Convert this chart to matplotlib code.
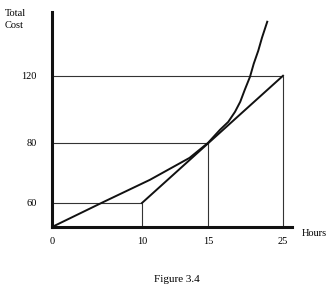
import numpy as np
import matplotlib
matplotlib.use("Agg")
import matplotlib.pyplot as plt

# data
hour_ticks = [0, 10, 15, 25]
cost_ticks = [60, 80, 120]

# convex total cost curve
curve_hours = [0, 5.7, 10.6, 13.6, 15, 16.6, 17.7, 18.6, 19.3, 19.9,
               20.6, 21.1, 21.7, 22.2, 22.9]
curve_cost = [50, 60.3, 67.7, 75, 80, 87.8, 92.5, 98.5, 104.5, 111.6,
              119.4, 127.2, 134.9, 142.7, 152.2]

# straight cost line
line_hours = [10, 25]
line_cost = [60, 120]

# guide points (dropped to both axes)
guide_hours = [10, 15, 25]
guide_cost = [60, 80, 120]

x_min, x_max = 0, 26.2
y_min, y_max = 50, 158


# the axes in the drawing are not to scale, so use a piecewise linear scale
def piecewise(vals, pos):
    vals = np.asarray(vals, float)
    pos = np.asarray(pos, float)

    def conv(v, a, b):
        v = np.asarray(v, float)
        shp = v.shape
        v = np.atleast_1d(v)
        out = np.interp(v, a, b)
        lo = v < a[0]
        hi = v > a[-1]
        out[lo] = b[0] + (v[lo] - a[0]) * (b[1] - b[0]) / (a[1] - a[0])
        out[hi] = b[-1] + (v[hi] - a[-1]) * (b[-1] - b[-2]) / (a[-1] - a[-2])
        return out.reshape(shp)

    return (lambda v: conv(v, vals, pos)), (lambda p: conv(p, pos, vals))


fig = plt.figure(figsize=(3.36, 2.89), dpi=100)
ax = fig.add_axes([52/336, (289-227)/289, (292-52)/336, (227-12)/289])

ax.set_xscale("function", functions=piecewise([0, 10, 15, 25], [0, 90, 156, 231]))
ax.set_yscale("function", functions=piecewise([50, 60, 80, 120], [0, 24, 84, 151]))

# thin guide lines
for h, c in zip(guide_hours, guide_cost):
    ax.plot([x_min, h], [c, c], color="#333333", lw=0.8, solid_capstyle="butt")
    ax.plot([h, h], [y_min, c], color="#333333", lw=0.8, solid_capstyle="butt")

ax.plot(curve_hours, curve_cost, color="#111111", lw=1.4, solid_joinstyle="round")
ax.plot(line_hours, line_cost, color="#111111", lw=1.4)

ax.set_xlim(x_min, x_max)
ax.set_ylim(y_min, y_max)

for s in ["top", "right"]:
    ax.spines[s].set_visible(False)
for s in ["left", "bottom"]:
    ax.spines[s].set_linewidth(2.2)
    ax.spines[s].set_color("#111111")

ax.set_xticks(hour_ticks)
ax.set_xticklabels([str(h) for h in hour_ticks])
ax.set_yticks(cost_ticks)
ax.set_yticklabels([str(c) for c in cost_ticks])
ax.tick_params(axis="x", length=0, pad=7, labelsize=7.5)
ax.tick_params(axis="y", length=0, pad=11, labelsize=7.5)
for lab in ax.get_xticklabels() + ax.get_yticklabels():
    lab.set_family("Liberation Serif")
ax.minorticks_off()

fig.text(5/336, 1 - 9/289, "Total\nCost", family="Liberation Serif", fontsize=7.5,
         ha="left", va="top", linespacing=1.5)
fig.text(302/336, 1 - 234/289, "Hours", family="Liberation Serif", fontsize=7.5,
         ha="left", va="center")
fig.text(177/336, 1 - 279/289, "Figure 3.4", family="Liberation Serif", fontsize=8,
         ha="center", va="center")

fig.savefig("out.png", dpi=100)
